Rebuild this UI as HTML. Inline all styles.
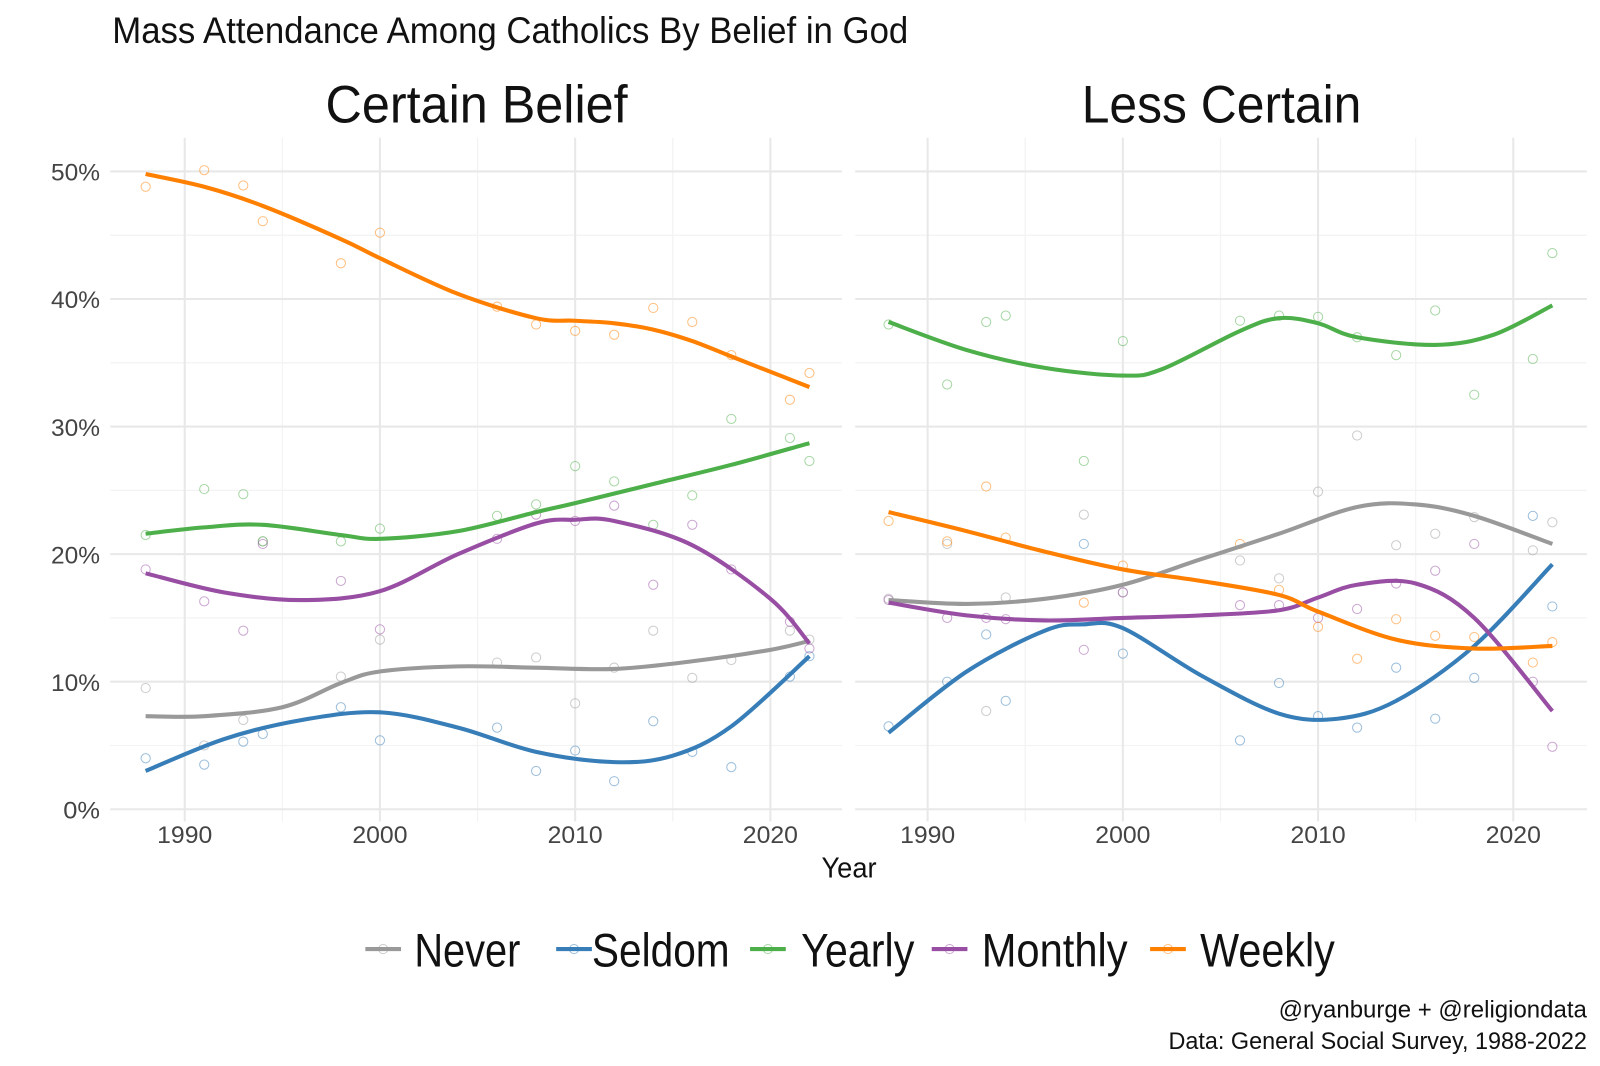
<!DOCTYPE html>
<html><head><meta charset="utf-8">
<style>
html,body{margin:0;padding:0;background:#fff;}
svg{display:block;font-family:"Liberation Sans Narrow","Liberation Sans",sans-serif;}
</style></head>
<body>
<svg id="chart" width="1600" height="1066" viewBox="0 0 1600 1066" xmlns="http://www.w3.org/2000/svg">
<rect width="1600" height="1066" fill="#fff"/>
<g transform="scale(1.0205)">
<text x="110" y="42" font-size="36" textLength="780" lengthAdjust="spacingAndGlyphs" fill="#111">Mass Attendance Among Catholics By Belief in God</text>
<g id="panels"></g>
<text x="832" y="860" font-size="28" text-anchor="middle" textLength="54" lengthAdjust="spacingAndGlyphs" fill="#111">Year</text>
<g id="legend"></g>
<text x="1555" y="997" font-size="24" text-anchor="end" textLength="302" lengthAdjust="spacingAndGlyphs" fill="#111">@ryanburge + @religiondata</text>
<text x="1555" y="1028" font-size="24" text-anchor="end" textLength="410" lengthAdjust="spacingAndGlyphs" fill="#111">Data: General Social Survey, 1988-2022</text>
</g>
</svg>
<script>
const NS="http://www.w3.org/2000/svg";
const panelTitles=["Certain Belief","Less Certain"];
const seriesNames=["Never","Seldom","Yearly","Monthly","Weekly"];
const seriesColors=["#999999","#377eb8","#4daf4a","#984ea3","#ff7f00"];
const xTicks=[1990,2000,2010,2020];
const yTicks=[0,10,20,30,40,50];
const pointYears=[1988,1991,1993,1994,1998,2000,2006,2008,2010,2012,2014,2016,2018,2021,2022];
// Certain Belief points
const certNever=[9.5,5.0,7.0,21.0,10.4,13.3,11.5,11.9,8.3,11.1,14.0,10.3,11.7,14.0,13.3];
const certSeldom=[4.0,3.5,5.3,5.9,8.0,5.4,6.4,3.0,4.6,2.2,6.9,4.5,3.3,10.4,12.0];
const certYearly=[21.5,25.1,24.7,21.0,21.0,22.0,23.0,23.9,26.9,25.7,22.3,24.6,30.6,29.1,27.3];
const certMonthly=[18.8,16.3,14.0,20.8,17.9,14.1,21.2,23.1,22.6,23.8,17.6,22.3,18.8,14.7,12.6];
const certWeekly=[48.8,50.1,48.9,46.1,42.8,45.2,39.4,38.0,37.5,37.2,39.3,38.2,35.6,32.1,34.2];
// Less Certain points
const lessNever=[16.5,20.8,7.7,16.6,23.1,17.0,19.5,18.1,24.9,29.3,20.7,21.6,22.9,20.3,22.5];
const lessSeldom=[6.5,10.0,13.7,8.5,20.8,12.2,5.4,9.9,7.3,6.4,11.1,7.1,10.3,23.0,15.9];
const lessYearly=[38.0,33.3,38.2,38.7,27.3,36.7,38.3,38.7,38.6,37.0,35.6,39.1,32.5,35.3,43.6];
const lessMonthly=[16.4,15.0,15.0,14.9,12.5,17.0,16.0,16.0,15.0,15.7,17.7,18.7,20.8,10.0,4.9];
const lessWeekly=[22.6,21.0,25.3,21.3,16.2,19.1,20.8,17.2,14.3,11.8,14.9,13.6,13.5,11.5,13.1];
// Smoothed trend lines
const certNeverFitX=[1988,1991,1995,1998,2000,2004,2008,2012,2016,2020,2022];
const certNeverFitY=[7.3,7.3,8.0,9.9,10.8,11.2,11.1,11.0,11.6,12.5,13.2];
const certSeldomFitX=[1988,1992,1996,2000,2004,2008,2012,2015,2018,2022];
const certSeldomFitY=[3.0,5.5,7.0,7.6,6.4,4.5,3.7,4.2,6.5,12.0];
const certYearlyFitX=[1988,1991,1994,1998,2000,2004,2008,2010,2014,2018,2022];
const certYearlyFitY=[21.6,22.1,22.3,21.5,21.2,21.8,23.3,24.0,25.5,27.0,28.7];
const certMonthlyFitX=[1988,1992,1996,2000,2004,2008,2010,2012,2016,2020,2022];
const certMonthlyFitY=[18.5,17.0,16.4,17.1,20.0,22.4,22.7,22.6,20.7,16.5,13.0];
const certWeeklyFitX=[1988,1991,1994,1998,2000,2004,2008,2010,2012,2014,2016,2018,2020,2022];
const certWeeklyFitY=[49.8,48.8,47.3,44.7,43.2,40.4,38.5,38.3,38.1,37.6,36.7,35.5,34.3,33.1];
const lessNeverFitX=[1988,1992,1996,2000,2004,2008,2012,2015,2018,2022];
const lessNeverFitY=[16.4,16.1,16.5,17.6,19.6,21.6,23.7,23.9,23.0,20.8];
const lessSeldomFitX=[1988,1992,1996,1998,2000,2004,2008,2011,2014,2018,2022];
const lessSeldomFitY=[6.0,10.8,14.0,14.5,14.2,10.5,7.5,7.1,8.5,12.8,19.2];
const lessYearlyFitX=[1988,1992,1996,2000,2002,2006,2008,2010,2012,2016,2019,2022];
const lessYearlyFitY=[38.2,36.0,34.6,34.0,34.5,37.5,38.5,38.1,37.0,36.4,37.2,39.5];
const lessMonthlyFitX=[1988,1992,1996,2000,2004,2008,2010,2012,2015,2018,2022];
const lessMonthlyFitY=[16.2,15.2,14.8,15.0,15.2,15.6,16.6,17.6,17.7,15.0,7.7];
const lessWeeklyFitX=[1988,1992,1996,2000,2004,2008,2010,2014,2018,2022];
const lessWeeklyFitY=[23.3,21.8,20.2,18.8,17.9,16.8,15.5,13.3,12.6,12.8];

const panelData=[
 {pts:[certNever,certSeldom,certYearly,certMonthly,certWeekly],
  fx:[certNeverFitX,certSeldomFitX,certYearlyFitX,certMonthlyFitX,certWeeklyFitX],
  fy:[certNeverFitY,certSeldomFitY,certYearlyFitY,certMonthlyFitY,certWeeklyFitY]},
 {pts:[lessNever,lessSeldom,lessYearly,lessMonthly,lessWeekly],
  fx:[lessNeverFitX,lessSeldomFitX,lessYearlyFitX,lessMonthlyFitX,lessWeeklyFitX],
  fy:[lessNeverFitY,lessSeldomFitY,lessYearlyFitY,lessMonthlyFitY,lessWeeklyFitY]}
];
const panelLeft=[108,838], panelW=717, plotTop=135, plotBottom=805;
const x0=[181,909], pxPerYear=19.13;
function xScale(p,yr){return x0[p]+(yr-1990)*pxPerYear;}
function yScale(v){return 793-v*12.5;}
function mk(tag,attrs,parent){const e=document.createElementNS(NS,tag);for(const k in attrs)e.setAttribute(k,attrs[k]);parent.appendChild(e);return e;}
function smoothPath(pts){
 let d="M"+pts[0][0].toFixed(1)+","+pts[0][1].toFixed(1);
 for(let i=0;i<pts.length-1;i++){
  const p0=pts[Math.max(0,i-1)],p1=pts[i],p2=pts[i+1],p3=pts[Math.min(pts.length-1,i+2)];
  const c1=[p1[0]+(p2[0]-p0[0])/6,p1[1]+(p2[1]-p0[1])/6];
  const c2=[p2[0]-(p3[0]-p1[0])/6,p2[1]-(p3[1]-p1[1])/6];
  d+=" C"+c1[0].toFixed(1)+","+c1[1].toFixed(1)+" "+c2[0].toFixed(1)+","+c2[1].toFixed(1)+" "+p2[0].toFixed(1)+","+p2[1].toFixed(1);
 }
 return d;
}
const G=document.getElementById("panels");
for(let p=0;p<2;p++){
 const g=mk("g",{},G);
 
 
 const L=panelLeft[p],R=L+panelW;
 for(let v=5;v<=50;v+=10){const y=yScale(v);mk("line",{x1:L,x2:R,y1:y,y2:y,stroke:"#f3f3f3","stroke-width":1.2},g);}
 for(let yr=1985;yr<=2025;yr+=10){const x=xScale(p,yr);if(x>L&&x<R)mk("line",{x1:x,x2:x,y1:plotTop,y2:plotBottom,stroke:"#f3f3f3","stroke-width":1.2},g);}
 yTicks.forEach(v=>{const y=yScale(v);mk("line",{x1:L,x2:R,y1:y,y2:y,stroke:"#e8e8e8","stroke-width":2},g);});
 xTicks.forEach(yr=>{const x=xScale(p,yr);mk("line",{x1:x,x2:x,y1:plotTop,y2:plotBottom,stroke:"#e8e8e8","stroke-width":2},g);});
 xTicks.forEach(yr=>{const t=mk("text",{x:xScale(p,yr),y:826,"font-size":24,"text-anchor":"middle",fill:"#444",textLength:54,lengthAdjust:"spacingAndGlyphs"},g);t.textContent=yr;
  
  });
 if(p===0){yTicks.forEach(v=>{const t=mk("text",{x:98,y:yScale(v)+9,"font-size":24,"text-anchor":"end",fill:"#444",textLength:v===0?36:48,lengthAdjust:"spacingAndGlyphs"},g);t.textContent=v+"%";
  
  });}
 const ft=mk("text",{x:[467,1197][p],y:120,"font-size":52,"text-anchor":"middle",fill:"#111",textLength:[296,274][p],lengthAdjust:"spacingAndGlyphs"},g);
 ft.textContent=panelTitles[p];
 
 
 const D=panelData[p];
 for(let s=0;s<5;s++){
  D.pts[s].forEach((v,i)=>{const c=mk("circle",{cx:xScale(p,pointYears[i]),cy:yScale(v),r:4.5,fill:"none",stroke:seriesColors[s],"stroke-opacity":0.5,"stroke-width":1},g);
   
   });
 }
 for(let s=0;s<5;s++){
  const pts=D.fx[s].map((yr,i)=>[xScale(p,yr),yScale(D.fy[s][i])]);
  const path=mk("path",{d:smoothPath(pts),fill:"none",stroke:seriesColors[s],"stroke-width":4,"stroke-linecap":"butt"},g);
  
  
 }
}
const LG=document.getElementById("legend");
const legKeyX=[358,545,735,913,1127], legTextX=[406,580,785,962,1176], legTextW=[104,135,111,143,132];
for(let s=0;s<5;s++){
 const e=mk("g",{},LG);
 
 
 mk("line",{x1:legKeyX[s],x2:legKeyX[s]+35,y1:930,y2:930,stroke:seriesColors[s],"stroke-width":4},e);
 mk("circle",{cx:legKeyX[s]+17.5,cy:930,r:4.5,fill:"none",stroke:seriesColors[s],"stroke-opacity":0.5},e);
 const t=mk("text",{x:legTextX[s],y:947,"font-size":46,fill:"#111",textLength:legTextW[s],lengthAdjust:"spacingAndGlyphs"},e);
 t.textContent=seriesNames[s];
}
</script>
</body></html>
